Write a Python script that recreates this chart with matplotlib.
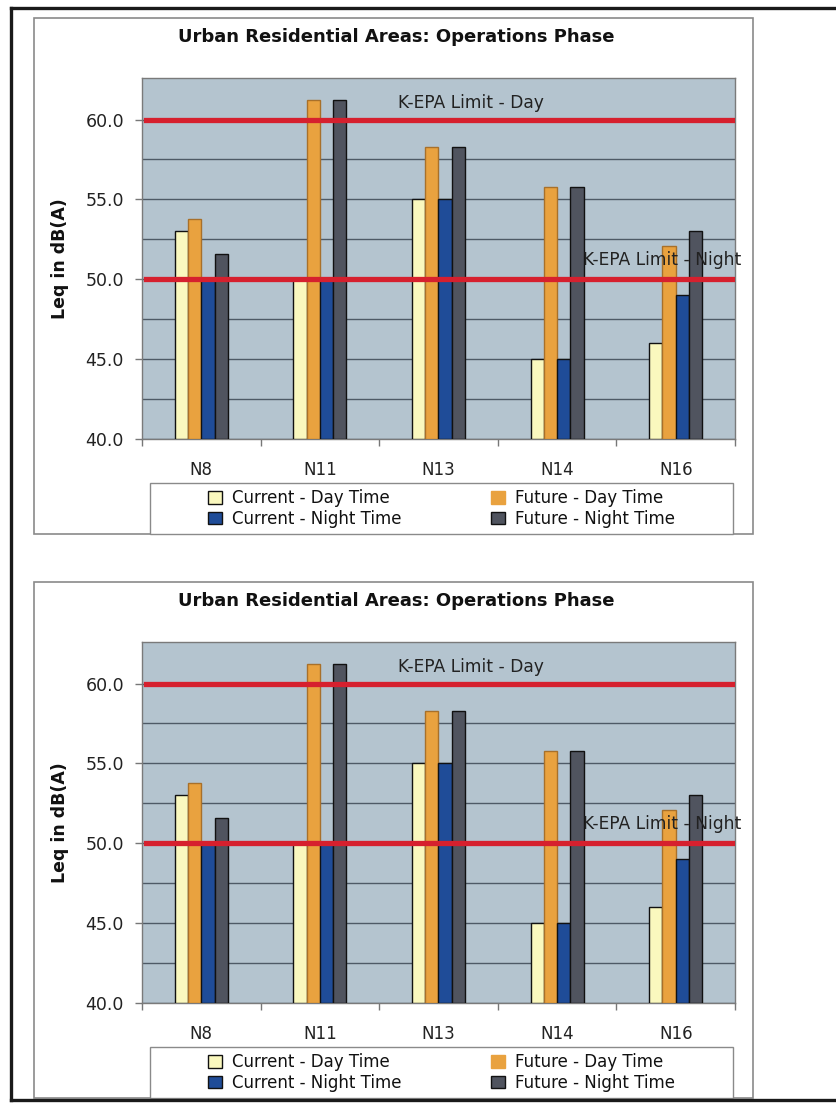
import matplotlib
matplotlib.use("Agg")
import matplotlib.pyplot as plt
from matplotlib.patches import Rectangle, Patch
from matplotlib.lines import Line2D
import numpy as np

# ---------------- data ----------------
title = "Urban Residential Areas: Operations Phase"
ylabel = "Leq in dB(A)"
categories = ["N8", "N11", "N13", "N14", "N16"]
series_names = ["Current - Day Time", "Future - Day Time", "Current - Night Time", "Future - Night Time"]
current_day = [53.0, 50.0, 55.0, 45.0, 46.0]
future_day = [53.8, 61.2, 58.3, 55.8, 52.1]
current_night = [50.0, 50.0, 55.0, 45.0, 49.0]
future_night = [51.6, 61.2, 58.3, 55.8, 53.0]
limit_day = 60.0
limit_night = 50.0
limit_day_label = "K-EPA Limit - Day"
limit_night_label = "K-EPA Limit - Night"
yticks = [40.0, 45.0, 50.0, 55.0, 60.0]

colors = ["#FAF8BE", "#E9A23F", "#1F4C98", "#50545F"]
edges = ["#111111", "#A8702A", "#111111", "#111111"]

W, H = 837, 1106
fig = plt.figure(figsize=(W / 100, H / 100), dpi=100)
plt.rcParams['font.family'] = ['DejaVu Sans']


def fx(px):
    return px / W


def fy(py):
    return 1 - py / H


def draw_chart(off):
    # chart box
    fig.add_artist(Rectangle((fx(34), fy(534 + off)), fx(753) - fx(34), (534 - 18) / H,
                             transform=fig.transFigure, facecolor="white",
                             edgecolor="#8a8a8a", lw=1.2, zorder=-2))
    ax = fig.add_axes([fx(142), fy(439 + off), (735 - 142) / W, (439 - 78) / H])
    ax.set_facecolor("#B4C4CF")
    x = np.arange(len(categories))
    w = 0.112
    data = [current_day, future_day, current_night, future_night]
    for i, (vals, name) in enumerate(zip(data, series_names)):
        ax.bar(x + (i - 1.5) * w, np.array(vals) - 40.0, bottom=40.0, width=w,
               color=colors[i], edgecolor=edges[i], linewidth=1.0, zorder=3, label=name)
    ax.set_xlim(-0.5, len(categories) - 0.5)
    ax.set_ylim(40.0, 62.6)
    ax.set_yticks(yticks)
    ax.set_yticklabels([f"{t:.1f}" for t in yticks], fontsize=12.5, color="#222222")
    ax.set_yticks(np.arange(42.5, 62.5, 5.0), minor=True)
    ax.yaxis.grid(True, which="both", color="#4E5A66", lw=1.0, zorder=1)
    ax.set_axisbelow(True)
    ax.tick_params(axis="y", which="major", length=5, width=1, color="#777777", pad=8)
    ax.tick_params(axis="y", which="minor", length=0)
    ax.set_xticks(x)
    ax.set_xticklabels(categories, fontsize=12, color="#222222")
    ax.set_xticks(np.arange(-0.5, len(categories), 1.0), minor=True)
    ax.tick_params(axis="x", which="major", length=0, pad=16)
    ax.tick_params(axis="x", which="minor", length=5, width=1, color="#777777")
    for s in ax.spines.values():
        s.set_color("#7a7a7a")
        s.set_linewidth(1.0)
    # limits
    ax.axhline(limit_day, xmin=0.006, xmax=0.997, color="#D6202E", lw=3.8, zorder=5)
    ax.axhline(limit_night, xmin=0.006, xmax=0.997, color="#D6202E", lw=3.8, zorder=5)
    ax.text(1.66, 61.05, limit_day_label, fontsize=12.3, color="#222222",
            ha="left", va="center", zorder=6)
    ax.text(3.22, 51.23, limit_night_label, fontsize=12.3, color="#222222",
            ha="left", va="center", zorder=6, clip_on=False)
    ax.set_ylabel(ylabel, fontsize=12.5, fontweight="bold", va="center", color="#111111")
    ax.yaxis.set_label_coords((60 - 142) / (735 - 142), 0.5)
    # title
    fig.text(fx(396), fy(37 + off), title, fontsize=13, fontweight="bold",
             ha="center", va="center", color="#111111")
    # legend frame
    fig.add_artist(Rectangle((fx(150), fy(534 + off)), fx(733) - fx(150), (534 - 483) / H,
                             transform=fig.transFigure, facecolor="white",
                             edgecolor="#8a8a8a", lw=1.0, zorder=-1))
    order = [0, 2, 1, 3]
    lh = [Patch(facecolor=colors[i], edgecolor=edges[i] if i != 1 else colors[i], lw=1.0) for i in order]
    ll = [series_names[i] for i in order]
    leg = ax.legend(lh, ll, ncol=2, loc="center",
                    bbox_to_anchor=(fx(150), fy(534 + off), fx(733) - fx(150), (534 - 483) / H),
                    bbox_transform=fig.transFigure, frameon=False, fontsize=12,
                    handlelength=0.8, handleheight=0.8, handletextpad=0.6,
                    labelspacing=0.15, columnspacing=5.4, borderpad=0.2)
    for t in leg.get_texts():
        t.set_color("#111111")
    return ax


draw_chart(0)
draw_chart(564)

# page border
for (x0, y0, x1, y1) in [(11.5, 7.5, 11.5, 1100), (11.5, 7.5, 837, 7.5), (11.5, 1100, 837, 1100)]:
    fig.add_artist(Line2D([fx(x0), fx(x1)], [fy(y0), fy(y1)], transform=fig.transFigure,
                          color="#1a1a1a", lw=2.4))

fig.savefig("out.png", dpi=100)
